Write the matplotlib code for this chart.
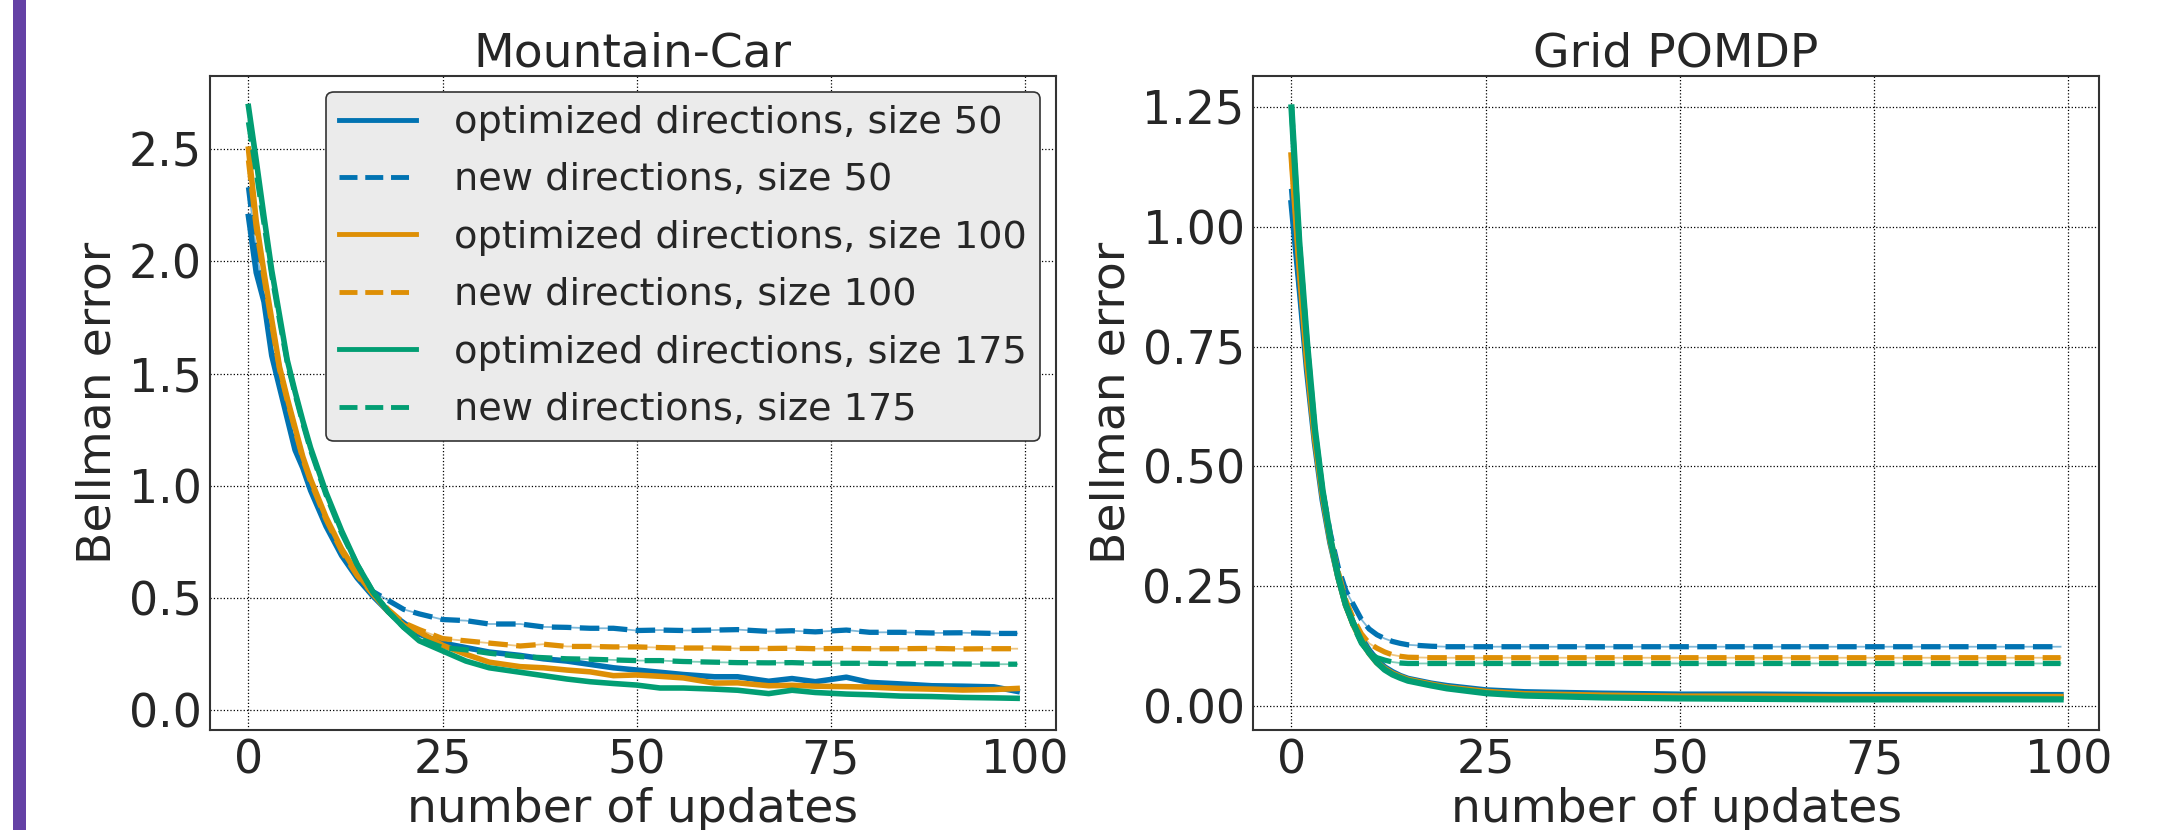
import matplotlib
matplotlib.use("Agg")
import matplotlib.pyplot as plt
from matplotlib.patches import Rectangle

# seaborn colorblind palette
BLUE = "#0173b2"
ORANGE = "#de8f05"
GREEN = "#029e73"

# ---- Mountain-Car ----
mc_x = [0, 1, 2, 3, 4, 5, 6, 7, 8, 10, 12, 14, 16, 18, 20, 22, 25, 28, 31, 35, 38,
        41, 44, 47, 50, 53, 56, 60, 63, 67, 70, 73, 77, 80, 84, 88, 92, 96, 99]
mc_opt_50 = [2.20, 1.95, 1.82, 1.58, 1.44, 1.30, 1.16, 1.08, 0.98, 0.82, 0.69, 0.59, 0.51,
             0.44, 0.39, 0.34, 0.30, 0.28, 0.26, 0.245, 0.23, 0.22, 0.205, 0.19, 0.18,
             0.17, 0.16, 0.15, 0.15, 0.13, 0.142, 0.128, 0.148, 0.125, 0.118, 0.11,
             0.108, 0.105, 0.085]
mc_new_50 = [2.33, 2.05, 1.85, 1.62, 1.46, 1.32, 1.18, 1.09, 0.99, 0.83, 0.70, 0.60, 0.53,
             0.49, 0.45, 0.43, 0.405, 0.40, 0.385, 0.385, 0.372, 0.37, 0.366, 0.366,
             0.356, 0.358, 0.356, 0.358, 0.36, 0.352, 0.355, 0.35, 0.358, 0.348, 0.348,
             0.345, 0.346, 0.343, 0.343]
mc_opt_100 = [2.50, 2.18, 1.95, 1.74, 1.53, 1.39, 1.26, 1.13, 1.03, 0.86, 0.72, 0.61, 0.52,
              0.44, 0.38, 0.35, 0.29, 0.25, 0.215, 0.195, 0.19, 0.18, 0.172, 0.155, 0.158,
              0.152, 0.145, 0.122, 0.123, 0.11, 0.112, 0.108, 0.106, 0.104, 0.098, 0.095,
              0.091, 0.093, 0.098]
mc_new_100 = [2.45, 2.15, 1.93, 1.72, 1.52, 1.38, 1.25, 1.12, 1.02, 0.85, 0.71, 0.60, 0.52,
              0.45, 0.39, 0.36, 0.32, 0.31, 0.30, 0.287, 0.295, 0.285, 0.285, 0.283,
              0.283, 0.28, 0.278, 0.278, 0.276, 0.276, 0.277, 0.275, 0.276, 0.275, 0.275,
              0.276, 0.274, 0.275, 0.275]
mc_opt_175 = [2.69, 2.45, 2.20, 1.96, 1.76, 1.56, 1.42, 1.29, 1.17, 0.97, 0.80, 0.65, 0.53,
              0.44, 0.37, 0.31, 0.265, 0.22, 0.19, 0.17, 0.155, 0.14, 0.128, 0.12, 0.113,
              0.10, 0.10, 0.095, 0.09, 0.075, 0.09, 0.08, 0.073, 0.07, 0.064, 0.062,
              0.058, 0.056, 0.054]
mc_new_175 = [2.62, 2.40, 2.17, 1.94, 1.74, 1.55, 1.41, 1.28, 1.16, 0.96, 0.79, 0.65, 0.53,
              0.44, 0.37, 0.32, 0.28, 0.27, 0.255, 0.24, 0.235, 0.23, 0.228, 0.225, 0.222,
              0.222, 0.218, 0.215, 0.213, 0.212, 0.213, 0.21, 0.21, 0.21, 0.208, 0.208,
              0.207, 0.206, 0.206]

# ---- Grid POMDP ----
gp_x = [0, 1, 2, 3, 4, 5, 6, 7, 8, 9, 10, 11, 12, 13, 14, 15, 18, 20, 25, 30, 40,
        50, 60, 70, 80, 90, 99]
gp_opt_50 = [1.05, 0.88, 0.70, 0.55, 0.43, 0.34, 0.27, 0.21, 0.17, 0.14, 0.115, 0.095,
             0.08, 0.07, 0.062, 0.056, 0.046, 0.041, 0.032, 0.028, 0.025, 0.023, 0.023,
             0.022, 0.022, 0.022, 0.022]
gp_new_50 = [1.08, 0.88, 0.71, 0.56, 0.45, 0.36, 0.29, 0.24, 0.21, 0.18, 0.16, 0.148,
             0.14, 0.134, 0.13, 0.127, 0.124, 0.123, 0.123, 0.123, 0.123, 0.123, 0.123,
             0.123, 0.123, 0.123, 0.123]
gp_opt_100 = [1.15, 0.92, 0.72, 0.56, 0.44, 0.345, 0.27, 0.21, 0.168, 0.135, 0.11, 0.09,
              0.077, 0.067, 0.06, 0.054, 0.044, 0.038, 0.029, 0.024, 0.021, 0.019, 0.019,
              0.018, 0.018, 0.018, 0.018]
gp_new_100 = [1.15, 0.92, 0.72, 0.57, 0.45, 0.35, 0.28, 0.22, 0.18, 0.15, 0.13, 0.12,
              0.112, 0.106, 0.103, 0.101, 0.10, 0.10, 0.10, 0.10, 0.10, 0.10, 0.10, 0.10,
              0.10, 0.10, 0.10]
gp_opt_175 = [1.25, 0.97, 0.76, 0.58, 0.45, 0.35, 0.27, 0.21, 0.17, 0.135, 0.11, 0.09,
              0.075, 0.065, 0.058, 0.052, 0.042, 0.036, 0.026, 0.021, 0.017, 0.015, 0.014,
              0.013, 0.013, 0.013, 0.013]
gp_new_175 = [1.25, 0.97, 0.76, 0.58, 0.45, 0.35, 0.27, 0.21, 0.165, 0.13, 0.11, 0.10,
              0.095, 0.091, 0.089, 0.088, 0.088, 0.088, 0.088, 0.088, 0.088, 0.088, 0.088,
              0.088, 0.088, 0.088, 0.088]

labels = ["optimized directions, size 50", "new directions, size 50",
          "optimized directions, size 100", "new directions, size 100",
          "optimized directions, size 175", "new directions, size 175"]
colors = [BLUE, BLUE, ORANGE, ORANGE, GREEN, GREEN]
styles = ["-", "--", "-", "--", "-", "--"]

TEXT = "#262626"
plt.rcParams["font.family"] = ["DejaVu Sans"]
plt.rcParams["text.color"] = TEXT
plt.rcParams["axes.labelcolor"] = TEXT
plt.rcParams["xtick.color"] = TEXT
plt.rcParams["ytick.color"] = TEXT

fig = plt.figure(figsize=(21.72, 8.3), dpi=100)
ax1 = fig.add_axes([0.0967, 0.1205, 0.3893, 0.7875])
ax2 = fig.add_axes([0.5769, 0.1205, 0.3895, 0.7875])

# purple bar on the left edge
fig.patches.append(Rectangle((0.0058, 0), 0.0062, 1, transform=fig.transFigure,
                             facecolor="#6441a5", edgecolor="none"))


def draw(ax, x, series, title, lw_solid):
    for y, c, ls, lab in zip(series, colors, styles, labels):
        if ls == "--":
            ax.plot(x, y, color=c, lw=1.3, alpha=0.5, zorder=2)
            ax.plot(x, y, color=c, lw=3.8, ls="--", label=lab, zorder=3)
        else:
            ax.plot(x, y, color=c, lw=lw_solid, ls="-", label=lab, zorder=3)
    ax.set_title(title, fontsize=34, pad=5)
    ax.set_xlabel("number of updates", fontsize=34, labelpad=3)
    ax.set_ylabel("Bellman error", fontsize=34, labelpad=6)
    ax.set_xticks([0, 25, 50, 75, 100])
    ax.tick_params(labelsize=33, length=0, pad=6)
    ax.grid(True, ls=":", color="black", lw=0.9)
    for s in ax.spines.values():
        s.set_color("#333333")
        s.set_linewidth(1.5)


draw(ax1, mc_x, [mc_opt_50, mc_new_50, mc_opt_100, mc_new_100, mc_opt_175, mc_new_175],
     "Mountain-Car", 4)
draw(ax2, gp_x, [gp_opt_50, gp_new_50, gp_opt_100, gp_new_100, gp_opt_175, gp_new_175],
     "Grid POMDP", 4.5)

ax1.set_xlim(-4.95, 103.95)
ax2.set_xlim(-4.95, 103.95)
ax1.set_ylim(-0.087, 2.824)
ax2.set_ylim(-0.051, 1.315)
ax1.set_yticks([0.0, 0.5, 1.0, 1.5, 2.0, 2.5])
ax2.set_yticks([0.0, 0.25, 0.5, 0.75, 1.0, 1.25])

leg = ax1.legend(loc="upper right", fontsize=27.5, facecolor="#ebebeb", edgecolor="#333333",
                 framealpha=1, labelspacing=0.56, borderaxespad=0.4, handlelength=2.0,
                 handletextpad=1.0, borderpad=0.35)
leg.get_frame().set_linewidth(1.2)
for h in leg.get_lines():
    h.set_linewidth(3.5)

fig.savefig("out.png", dpi=100)
